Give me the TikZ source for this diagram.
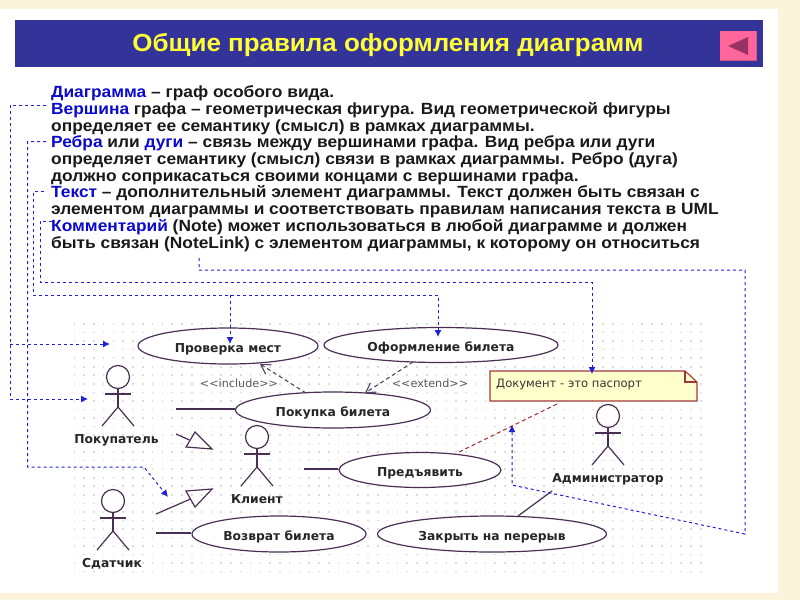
\documentclass[tikz,border=0pt]{standalone}
\usepackage{fontspec}
\setmainfont{Liberation Sans}
\newfontfamily\bodyfont[FakeStretch=1.07]{Liberation Sans}
\newfontfamily\titlefont[FakeStretch=1.05]{Liberation Sans}
\newfontfamily\umlfont{DejaVu Sans}
\usetikzlibrary{arrows.meta,shapes.geometric}
\definecolor{beige}{HTML}{FBF3DC}
\definecolor{barblue}{HTML}{333399}
\definecolor{titleyellow}{HTML}{FFFF33}
\definecolor{btnpink}{HTML}{FF6699}
\definecolor{btnedge}{HTML}{D4557F}
\definecolor{btnarrow}{HTML}{993366}
\definecolor{linkblue}{HTML}{2020D8}
\definecolor{termblue}{HTML}{0A0ACC}
\definecolor{umlline}{HTML}{4A2F55}
\definecolor{notefill}{HTML}{FFFFCC}
\definecolor{noteline}{HTML}{A03A3A}
\definecolor{dotgray}{HTML}{DCDCDC}
\newcommand{\term}[1]{\textcolor{termblue}{#1}}
\tikzset{
  usecase/.style={ellipse,draw=umlline,line width=1.2pt,fill=white,inner sep=0pt,text height=12pt,text depth=0pt,font=\umlfont\bfseries\fontsize{12.3}{14}\selectfont,text=black!85},
  alabel/.style={anchor=base,font=\umlfont\bfseries\fontsize{12.3}{14}\selectfont,inner sep=0pt,text=black!85},
  assoc/.style={draw=umlline,line width=1.2pt},
  hint/.style={draw=linkblue,line width=1pt,dash pattern=on 3pt off 3pt},
  hintarrow/.style={hint,-{Latex[length=7pt,width=7pt]}},
  dep/.style={draw=umlline!75!gray,line width=1.1pt,dash pattern=on 4pt off 3pt,-{Straight Barb[length=9pt,width=11pt]}},
  stereo/.style={anchor=base,font=\umlfont\fontsize{11.2}{13}\selectfont,text=black!65,inner sep=0pt},
  txt/.style={anchor=base west,inner sep=0pt,font=\bodyfont\bfseries\fontsize{16.2}{17}\selectfont,text=black!90}
}
\newcommand{\actor}[2]{%
  \draw[assoc,fill=white] (#1,#2) circle (11.5);
  \draw[assoc] (#1,#2+11.5) -- (#1,#2+30);
  \draw[assoc] (#1-13,#2+17) -- (#1+13,#2+17);
  \draw[assoc] (#1-16,#2+49) -- (#1,#2+30) -- (#1+16,#2+49);
}
\begin{document}
\begin{tikzpicture}[x=1pt,y=-1pt]
\useasboundingbox (0,0) rectangle (800,600);
\fill[beige] (0,0) rectangle (800,600);
\fill[white] (0,9) rectangle (778,593);
% header
\fill[barblue] (15,20) rectangle (763,67);
\node[inner sep=0pt,text=titleyellow,font=\titlefont\bfseries\fontsize{24.7}{27}\selectfont] (title) at (388,45) {Общие правила оформления диаграмм};
\fill[btnedge] (720,31) rectangle (757,61);
\fill[btnpink] (720,31) rectangle (755.5,59.5);
\fill[btnarrow] (728,46) -- (748,37) -- (748,55) -- cycle;
% body text
\node[txt] (l1) at (51,97.5) {\term{Диаграмма} – граф особого вида.};
\node[txt] (l2) at (51,114.5) {\term{Вершина} графа – геометрическая фигура. Вид геометрической фигуры};
\node[txt] (l3) at (51,131) {определяет ее семантику (смысл) в рамках диаграммы.};
\node[txt] (l4) at (51,147.5) {\term{Ребра} или \term{дуги} – связь между вершинами графа. Вид ребра или дуги};
\node[txt] (l5) at (51,164.5) {определяет семантику (смысл) связи в рамках диаграммы. Ребро (дуга)};
\node[txt] (l6) at (51,181) {должно соприкасаться своими концами с вершинами графа.};
\node[txt] (l7) at (51,197.5) {\term{Текст} – дополнительный элемент диаграммы. Текст должен быть связан с};
\node[txt] (l8) at (51,214.5) {элементом диаграммы и соответствовать правилам написания текста в UML};
\node[txt] (l9) at (51,231) {\term{Комментарий} (Note) может использоваться в любой диаграмме и должен};
\node[txt] (l10) at (51,248) {быть связан (NoteLink) с элементом диаграммы, к которому он относиться};
% dotted grid
\foreach \i in {0,...,64}{\foreach \j in {0,...,29}{
  \fill[dotgray] (74.3+\i*9.79-0.8,324+\j*8.54-0.8) rectangle ++(1.6,1.6);}}
% use cases
\node[usecase,minimum width=180pt,minimum height=36pt] (u1) at (228,346) {Проверка мест};
\node[usecase,minimum width=234pt,minimum height=35pt] (u2) at (441,345) {Оформление билета};
\node[usecase,minimum width=195pt,minimum height=36pt] (u3) at (333,410) {Покупка билета};
\node[usecase,minimum width=162pt,minimum height=35pt] (u4) at (420,470) {Предъявить};
\node[usecase,minimum width=174pt,minimum height=36pt] (u5) at (279,534) {Возврат билета};
\node[usecase,minimum width=229pt,minimum height=36pt] (u6) at (492,534) {Закрыть на перерыв};
% actors
\actor{118}{377}
\actor{257}{437}
\actor{113}{501}
\actor{608}{416}
\node[alabel] (a1) at (116.5,443) {Покупатель};
\node[alabel] (a2) at (257,503) {Клиент};
\node[alabel] (a3) at (112,567) {Сдатчик};
\node[alabel] (a4) at (608,482) {Администратор};
% note
\fill[notefill] (490,371) -- (685,371) -- (697,382) -- (697,401) -- (490,401) -- cycle;
\draw[noteline,line width=1.1pt] (490,371) -- (685,371) -- (697,382) -- (697,401) -- (490,401) -- cycle;
\draw[noteline,line width=1.1pt] (685,371) -- (685,382) -- (697,382);
\node[anchor=base west,inner sep=0pt,font=\umlfont\fontsize{11.6}{13}\selectfont,text=black!80] (note) at (496,387) {Документ - это паспорт};
% stereotypes
\node[stereo] (s1) at (239,387) {<{}<include>{}>};
\node[stereo] (s2) at (430,387) {<{}<extend>{}>};
% associations
\coordinate (p1) at (176,409);
\coordinate (c1) at (176,434);
\coordinate (t1a) at (195,432);
\coordinate (t1b) at (212,449);
\coordinate (t1c) at (186,447);
\coordinate (t1m) at (189.5,440);
\coordinate (c2) at (156,514);
\coordinate (t2a) at (186,491);
\coordinate (t2b) at (212,489);
\coordinate (t2c) at (195,507);
\coordinate (t2m) at (190.5,499);
\coordinate (s3) at (156,533);
\coordinate (k1) at (304,469);
\coordinate (ad) at (552,491);
\coordinate (u6t) at (518,516);
\draw[assoc] (p1) -- (u3.west |- p1);
\draw[assoc] (c1) -- (t1m);
\draw[assoc] (t1a) -- (t1b) -- (t1c) -- cycle;
\draw[assoc] (c2) -- (t2m);
\draw[assoc] (t2a) -- (t2b) -- (t2c) -- cycle;
\draw[assoc] (s3) -- (u5.west |- s3);
\draw[assoc] (k1) -- (u4.west |- k1);
\draw[assoc] (ad) -- (u6t);
% dependencies
\coordinate (d1s) at (306,393);
\coordinate (d1e) at (260,364);
\coordinate (d2s) at (413,362);
\coordinate (d2e) at (365,393);
\draw[dep] (d1s) -- (d1e);
\draw[dep] (d2s) -- (d2e);
\coordinate (n1) at (557,404);
\coordinate (n2) at (457,453);
\draw[draw=noteline,line width=1.1pt,dash pattern=on 4pt off 3pt] (n1) -- (n2);
% hint links
\coordinate (h1) at (46,105);
\coordinate (h1a) at (10,105);
\coordinate (h1b) at (10,344);
\coordinate (h1t) at (110,344);
\coordinate (h1c) at (10,399);
\coordinate (h1u) at (88,399);
\draw[hint] (h1) -- (h1a) -- (h1c);
\draw[hintarrow] (h1b) -- (h1t);
\draw[hintarrow] (h1c) -- (h1u);
\coordinate (h2) at (46,141.5);
\coordinate (h2a) at (27.5,141.5);
\coordinate (h2b) at (27.5,467);
\coordinate (h2c) at (144,467);
\coordinate (h2t) at (168,497);
\draw[hintarrow] (h2) -- (h2a) -- (h2b) -- (h2c) -- (h2t);
\coordinate (h3) at (44,191);
\coordinate (h3a) at (33.5,191);
\coordinate (h3b) at (33.5,295);
\coordinate (h3m) at (230,295);
\coordinate (h3t1) at (230,344);
\coordinate (h3c) at (438,295);
\coordinate (h3t2) at (438,337);
\draw[hintarrow] (h3) -- (h3a) -- (h3b) -- (h3c) -- (h3t2);
\draw[hintarrow] (h3m) -- (h3t1);
\coordinate (h4) at (52,221);
\coordinate (h4a) at (40,221);
\coordinate (h4b) at (40,282);
\coordinate (h4c) at (592,282);
\coordinate (h4t) at (592,374);
\draw[hintarrow] (h4) -- (h4a) -- (h4b) -- (h4c) -- (h4t);
\coordinate (h5) at (199,258);
\coordinate (h5a) at (199,270);
\coordinate (h5b) at (745,270);
\coordinate (h5c) at (745,534);
\coordinate (h5d) at (512,485);
\coordinate (h5t) at (512,425);
\draw[hintarrow] (h5) -- (h5a) -- (h5b) -- (h5c) -- (h5d) -- (h5t);
\end{tikzpicture}
\end{document}
